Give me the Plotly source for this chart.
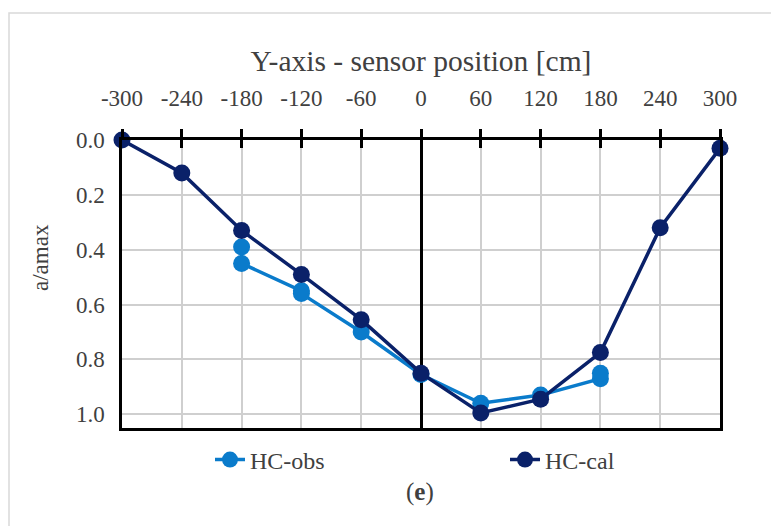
import plotly.graph_objects as go

# Data
cal_x = [-300, -240, -180, -120, -60, 0, 60, 120, 180, 240, 300]
cal_y = [0.0, 0.12, 0.33, 0.49, 0.655, 0.85, 0.995, 0.945, 0.775, 0.32, 0.03]
obs_x = [-180, -180, -120, -120, -60, 0, 60, 120, 180, 180]
obs_y = [0.39, 0.45, 0.55, 0.56, 0.70, 0.855, 0.96, 0.93, 0.87, 0.85]
x_ticks = [-300, -240, -180, -120, -60, 0, 60, 120, 180, 240, 300]
y_ticks = [0.0, 0.2, 0.4, 0.6, 0.8, 1.0]

FONT = "Liberation Serif"
TXT = "#404040"
C_OBS = "#0A7BCB"
C_CAL = "#0A2169"

OFF = 8  # page body margin
W, H = 779, 526
L, T = 122 - OFF, 140 - OFF
pw, ph = 598, 288
R, B = W - L - pw, H - T - ph


def px(x):
    return (x - OFF - L) / pw


def py(y):
    return 1 - (y - OFF - T) / ph


fig = go.Figure()
fig.add_trace(go.Scatter(x=obs_x, y=obs_y, name="HC-obs", mode="lines+markers",
                         line=dict(color=C_OBS, width=3.5),
                         marker=dict(color=C_OBS, size=17), cliponaxis=False,
                         legend="legend"))
fig.add_trace(go.Scatter(x=cal_x, y=cal_y, name="HC-cal", mode="lines+markers",
                         line=dict(color=C_CAL, width=3.5),
                         marker=dict(color=C_CAL, size=17), cliponaxis=False,
                         legend="legend2"))
# helper trace for inward tick marks on the top axis
fig.add_trace(go.Scatter(x=[None], y=[None], xaxis="x2", showlegend=False, hoverinfo="skip"))

leg_common = dict(orientation="h", xanchor="left", yanchor="middle", y=py(460),
                  font=dict(family=FONT, size=24, color=TXT),
                  bgcolor="rgba(0,0,0,0)")

fig.update_layout(
    width=W, height=H, autosize=False,
    margin=dict(l=L, r=R, t=T, b=B, autoexpand=False),
    paper_bgcolor="white", plot_bgcolor="white",
    font=dict(family=FONT, color=TXT, size=23),
    xaxis=dict(side="top", range=[-300, 300], tickvals=x_ticks,
               ticktext=[str(v) for v in x_ticks],
               showgrid=True, gridcolor="#CFCFCF", gridwidth=2,
               zeroline=True, zerolinecolor="black", zerolinewidth=2.5,
               showline=True, linecolor="black", linewidth=2.5, mirror=True,
               ticks="outside", ticklen=8, tickwidth=2.5, tickcolor="black",
               ticklabelstandoff=14,
               tickfont=dict(family=FONT, size=23, color=TXT),
               title=dict(text="Y-axis - sensor position [cm]",
                          font=dict(family=FONT, size=29.5, color=TXT), standoff=6)),
    xaxis2=dict(overlaying="x", matches="x", side="top", range=[-300, 300],
                tickvals=x_ticks, showticklabels=False, showgrid=False,
                zeroline=False, ticks="inside", ticklen=8, tickwidth=2.5,
                tickcolor="black", showline=False),
    yaxis=dict(range=[1.05, 0], tickvals=y_ticks,
               ticktext=[f"{v:.1f}" for v in y_ticks],
               showgrid=True, gridcolor="#CFCFCF", gridwidth=2,
               zeroline=False, showline=True, linecolor="black", linewidth=2.5,
               mirror=True, ticks="", ticklabelstandoff=10,
               tickfont=dict(family=FONT, size=23, color=TXT)),
    legend=dict(x=px(210), **leg_common),
    legend2=dict(x=px(505), **leg_common),
    showlegend=True,
)

fig.add_annotation(text="a/amax", textangle=-90, xref="paper", yref="paper",
                   x=px(40), y=py(258), xanchor="center", yanchor="middle",
                   showarrow=False, font=dict(family=FONT, size=23, color=TXT))
fig.add_annotation(text="(<b>e</b>)", xref="paper", yref="paper",
                   x=px(420), y=py(492), xanchor="center", yanchor="middle",
                   showarrow=False, font=dict(family=FONT, size=25, color=TXT))
fig.add_shape(type="rect", xref="paper", yref="paper",
              x0=px(9), x1=px(790), y0=py(540), y1=py(13),
              line=dict(color="#D9D9D9", width=1.5),
              fillcolor="rgba(0,0,0,0)", layer="below")

fig.write_html("out.html")
